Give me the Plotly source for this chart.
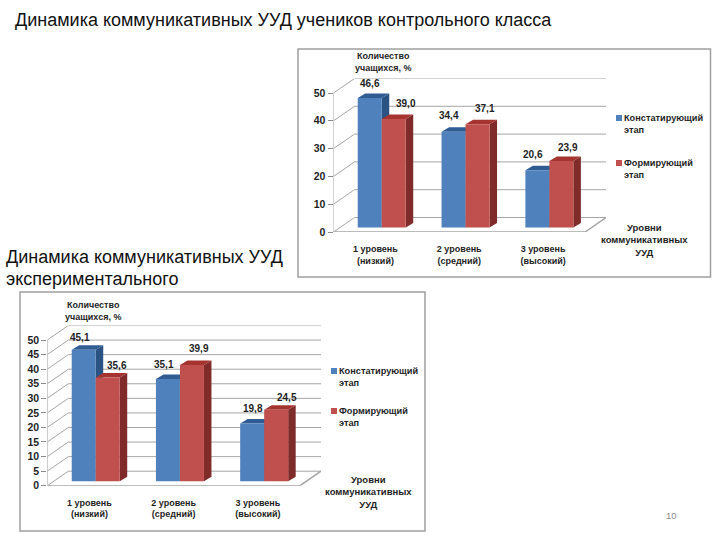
import plotly.graph_objects as go

W, H = 720, 540

# --- data ---
categories = ["1 уровень<br>(низкий)", "2 уровень<br>(средний)", "3 уровень<br>(высокий)"]
series_names = ["Констатирующий<br>этап", "Формирующий<br>этап"]
control_first = [46.6, 34.4, 20.6]
control_second = [39.0, 37.1, 23.9]
exper_first = [45.1, 35.1, 19.8]
exper_second = [35.6, 39.9, 24.5]
control_ticks = [0, 10, 20, 30, 40, 50]
exper_ticks = [0, 5, 10, 15, 20, 25, 30, 35, 40, 45, 50]
y_title = "Количество<br>учащихся, %"
x_title = "Уровни<br>коммуникативных<br>УУД"
title_top = "Динамика коммуникативных УУД учеников контрольного класса"
title_left_1 = "Динамика коммуникативных УУД"
title_left_2 = "экспериментального"
page_number = "10"

BLUE, RED = "#4f81bd", "#c0504d"
BLUE_TOP, RED_TOP = "#2f5d93", "#a53431"
BLUE_SIDE, RED_SIDE = "#2a5384", "#7f2b2a"
GRID = "#a6a6a6"
TXT = "#1f1f1f"
FONT = "Liberation Sans"


def fmt(v):
    return f"{v:.1f}".replace(".", ",")


fig = go.Figure()
shapes, annotations = [], []


def px_x(x):
    return x / W


def px_y(y):
    return 1 - y / H


def note(x, y, text, size=9, bold=True, color=TXT, align="center", xanchor="center"):
    annotations.append(dict(
        x=px_x(x), y=px_y(y), xref="paper", yref="paper", text=f"<b>{text}</b>" if bold else text,
        showarrow=False, align=align, xanchor=xanchor, yanchor="middle",
        font=dict(family=FONT, size=size, color=color),
    ))


def chart(idx, frame, x0, x1, y0, y50, first, second, ticks, lab_off, legend_xy, ytitle_xy, xtitle_xy):
    """x0..x1, y0..y50: front plane in page pixels."""
    sx = "" if idx == 1 else str(idx)
    xa, ya = "x" + sx, "y" + sx
    ppx = (x1 - x0) / 3            # pixels per category
    ppy = (y0 - y50) / 50          # pixels per value unit
    back_dx, back_dy = 21 / ppx, 14.5 / ppy
    bar_dx, bar_dy = 6.3 / ppx, 4.5 / ppy
    depth_x, depth_y = 7.5 / ppx, 4.5 / ppy
    bw = 24 / ppx

    top_px = y50 - 14.5
    right_px = x1 + 21
    fig.update_layout({
        "xaxis" + sx: dict(
            domain=[px_x(x0), px_x(right_px)], range=[0.5, 0.5 + (right_px - x0) / ppx],
            anchor=ya, tickmode="array", tickvals=[1, 2, 3], ticktext=[f"<b>{c}</b>" for c in categories],
            ticks="outside", ticklen=8, tickcolor="rgba(0,0,0,0)", showgrid=False, zeroline=False,
            showline=False, automargin=False, tickfont=dict(family=FONT, size=9, color=TXT),
        ),
        "yaxis" + sx: dict(
            domain=[px_y(y0), px_y(top_px)], range=[0, (y0 - top_px) / ppy],
            anchor=xa, tickmode="array", tickvals=ticks, ticktext=[f"<b>{t}</b>" for t in ticks],
            ticks="outside", ticklen=5, tickcolor="#8c8c8c", showgrid=False, zeroline=False,
            showline=False, automargin=False, tickfont=dict(family=FONT, size=10.5, color=TXT),
        ),
    })

    # frame
    shapes.append(dict(type="rect", xref="paper", yref="paper", x0=px_x(frame[0]), x1=px_x(frame[2]),
                       y0=px_y(frame[1]), y1=px_y(frame[3]), line=dict(color="#a0a0a0", width=1.5),
                       fillcolor="white", layer="below"))

    def poly(points, fill=None, line=None, width=1):
        path = "M " + " L ".join(f"{p[0]},{p[1]}" for p in points) + (" Z" if fill else "")
        shapes.append(dict(type="path", path=path, xref=xa, yref=ya, layer="below",
                           fillcolor=fill or "rgba(0,0,0,0)",
                           line=dict(color=line or "rgba(0,0,0,0)", width=width if line else 0)))

    # walls
    poly([(0.5, 0), (0.5, 50)], line=GRID)
    for t in ticks:
        poly([(0.5, t), (0.5 + back_dx, t + back_dy), (3.5 + back_dx, t + back_dy)], line=GRID)
    poly([(0.5, 0), (3.5, 0), (3.5 + back_dx, back_dy)], line=GRID, width=1.5)

    # 3D faces of bars
    centers = [1, 2, 3]
    for c, a, b in zip(centers, first, second):
        for left, v, top, side in ((c + bar_dx - bw, a, BLUE_TOP, BLUE_SIDE), (c + bar_dx, b, RED_TOP, RED_SIDE)):
            r = left + bw
            t = v + bar_dy
            poly([(r, bar_dy), (r, t), (r + depth_x, t + depth_y), (r + depth_x, bar_dy + depth_y)], fill=side)
            poly([(left, t), (r, t), (r + depth_x, t + depth_y), (left + depth_x, t + depth_y)], fill=top)

    # front faces
    for vals, col, shift, offs in ((first, BLUE, -bw / 2, lab_off[0]), (second, RED, bw / 2, lab_off[1])):
        xs = [c + bar_dx + shift for c in centers]
        fig.add_trace(go.Bar(x=xs, y=vals, base=[bar_dy] * 3, width=bw, marker=dict(color=col, line=dict(width=0)),
                             xaxis=xa, yaxis=ya, showlegend=False))
        for xv, v, (ox, oy) in zip(xs, vals, offs):
            annotations.append(dict(x=xv, y=v + bar_dy, xref=xa, yref=ya, text=f"<b>{fmt(v)}</b>", showarrow=False,
                                    xshift=ox, yshift=oy, font=dict(family=FONT, size=10, color=TXT)))

    # legend
    lx, ly1, ly2 = legend_xy
    for ly, col, name in ((ly1, BLUE, series_names[0]), (ly2, RED, series_names[1])):
        shapes.append(dict(type="rect", xref="paper", yref="paper", x0=px_x(lx), x1=px_x(lx + 6),
                           y0=px_y(ly + 3), y1=px_y(ly - 3), fillcolor=col, line=dict(width=0), layer="below"))
        note(lx + 6, ly + 5.8, name, size=9.2, align="left", xanchor="left")

    note(ytitle_xy[0], ytitle_xy[1], y_title, size=9)
    note(xtitle_xy[0], xtitle_xy[1], x_title, size=9.5)


chart(1, (298, 49, 710.5, 277), 333.5, 585, 232, 93, control_first, control_second, control_ticks,
      ([(0, 14), (-5, 16), (-4, 16)], [(12, 16), (7, 16), (7, 14)]), (616, 118, 163), (383, 62.5), (644, 240))
chart(2, (20, 292, 425, 531), 47.3, 300, 485.7, 340, exper_first, exper_second, exper_ticks,
      ([(-4, 12), (-4, 14), (1, 15)], [(9, 12), (7, 16), (11, 12)]), (331, 371, 411), (93, 311), (369, 492))

note(13, 20, title_top, size=18, bold=False, color="#111111", align="left", xanchor="left")
note(4, 257, title_left_1, size=18, bold=False, color="#111111", align="left", xanchor="left")
note(4, 279, title_left_2, size=18, bold=False, color="#111111", align="left", xanchor="left")
note(671, 515, page_number, size=9.5, bold=False, color="#8c8c8c")

fig.update_layout(
    width=W, height=H, margin=dict(l=0, r=0, t=0, b=0), autosize=False,
    paper_bgcolor="white", plot_bgcolor="rgba(0,0,0,0)", barmode="overlay",
    shapes=shapes, annotations=annotations, showlegend=False,
)
fig.write_html("out.html", config={"displayModeBar": False},
               post_script="document.body.style.margin='0';document.documentElement.style.overflow='hidden';")
